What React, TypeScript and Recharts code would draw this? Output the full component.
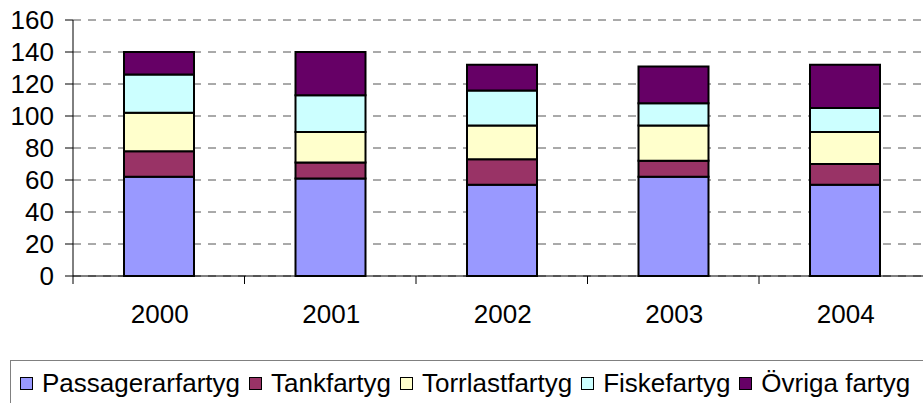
import React from "react"
import { BarChart, Bar, XAxis, YAxis, CartesianGrid } from "recharts"

const years = ["2000", "2001", "2002", "2003", "2004"]
const passagerarfartyg = [62, 61, 57, 62, 57]
const tankfartyg = [16, 10, 16, 10, 13]
const torrlastfartyg = [24, 19, 21, 22, 20]
const fiskefartyg = [24, 23, 22, 14, 15]
const ovrigaFartyg = [14, 27, 16, 23, 27]
const yTicks = [0, 20, 40, 60, 80, 100, 120, 140, 160]

const series = [
  { key: "pass", name: "Passagerarfartyg", color: "#9999FF", values: passagerarfartyg },
  { key: "tank", name: "Tankfartyg", color: "#993366", values: tankfartyg },
  { key: "torr", name: "Torrlastfartyg", color: "#FFFFCC", values: torrlastfartyg },
  { key: "fiske", name: "Fiskefartyg", color: "#CCFFFF", values: fiskefartyg },
  { key: "ovr", name: "Övriga fartyg", color: "#660066", values: ovrigaFartyg },
]

const data = years.map((year, i) => {
  const row: Record<string, string | number> = { year }
  series.forEach((s) => {
    row[s.key] = s.values[i]
  })
  return row
})

const FONT = "'Liberation Sans', Arial, sans-serif"
const CHART_W = 945
const MARGIN = { top: 20, right: 14.5, left: 0, bottom: 0 }
const Y_W = 73
const BAND = (CHART_W - Y_W - MARGIN.right) / years.length

// Excel-style category axis: tick marks sit between the categories
function YearTick(props: any) {
  const { x, y, payload, index } = props
  const half = BAND / 2
  return (
    <g>
      <line x1={x - half} x2={x - half} y1={y} y2={y + 8} stroke="#000" />
      {index === years.length - 1 && (
        <line x1={x + half} x2={x + half} y1={y} y2={y + 8} stroke="#000" />
      )}
      <text x={x + 1} y={y + 47} textAnchor="middle" fontSize={26} fontFamily={FONT} fill="#000">
        {payload.value}
      </text>
    </g>
  )
}

export default function App() {
  return (
    <div
      style={{
        position: "absolute",
        left: 0,
        top: 0,
        width: 923,
        height: 403,
        overflow: "hidden",
        background: "#fff",
        fontFamily: FONT,
      }}
    >
      <BarChart width={CHART_W} height={403} data={data} margin={MARGIN}>
        <CartesianGrid vertical={false} stroke="#555" strokeDasharray="8 7" />
        <XAxis
          dataKey="year"
          height={127}
          axisLine={{ stroke: "#000" }}
          tickLine={false}
          tickSize={0}
          tickMargin={0}
          interval={0}
          tick={<YearTick />}
        />
        <YAxis
          width={Y_W}
          domain={[0, 160]}
          ticks={yTicks}
          interval={0}
          axisLine={{ stroke: "#000" }}
          tickLine={{ stroke: "#000" }}
          tickSize={8}
          tickMargin={11}
          tick={{ fontSize: 26, fill: "#000", fontFamily: FONT }}
        />
        {series.map((s) => (
          <Bar
            key={s.key}
            dataKey={s.key}
            name={s.name}
            stackId="a"
            fill={s.color}
            stroke="#000"
            strokeWidth={2}
            barSize={70}
            isAnimationActive={false}
          />
        ))}
      </BarChart>
      <div
        style={{
          position: "absolute",
          left: 10,
          top: 360,
          width: 940,
          height: 60,
          border: "1px solid #808080",
          boxSizing: "border-box",
          paddingLeft: 9,
          paddingTop: 7,
          display: "flex",
          alignItems: "flex-start",
          whiteSpace: "nowrap",
        }}
      >
        {series.map((s) => (
          <div key={s.key} style={{ display: "flex", alignItems: "flex-start", marginRight: 9 }}>
            <span
              style={{
                display: "inline-block",
                width: 13,
                height: 13,
                boxSizing: "border-box",
                border: "1.5px solid #000",
                background: s.color,
                marginTop: 9,
                marginRight: 9,
              }}
            />
            <span style={{ fontSize: 26, lineHeight: "normal", color: "#000" }}>{s.name}</span>
          </div>
        ))}
      </div>
    </div>
  )
}
